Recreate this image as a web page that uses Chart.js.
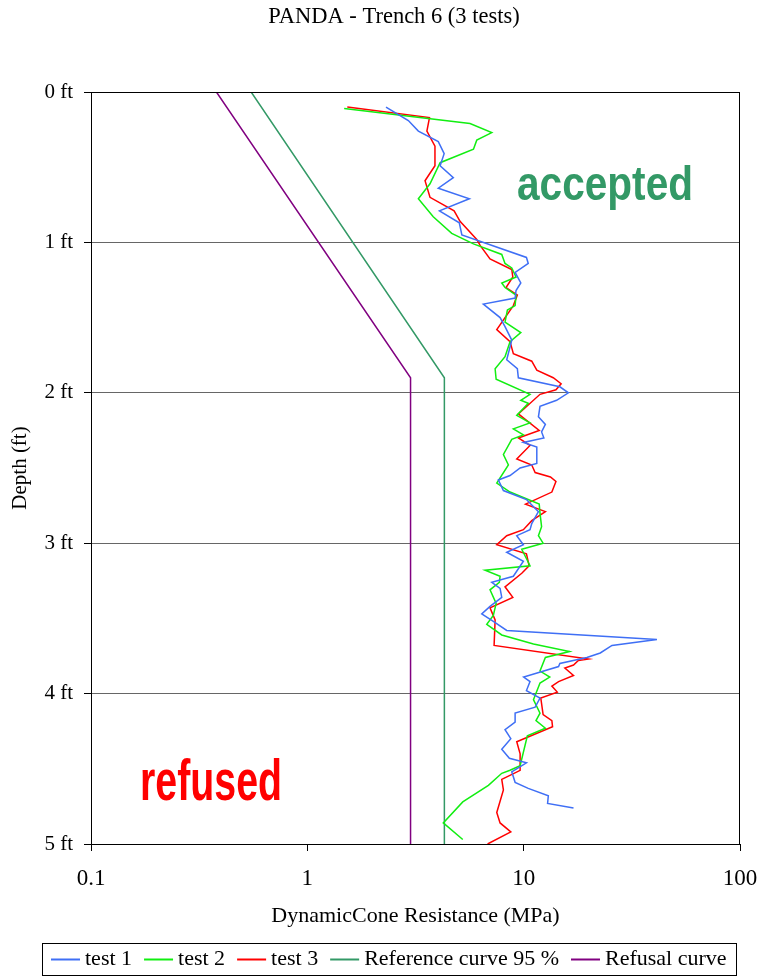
<!DOCTYPE html>
<html>
<head>
<meta charset="utf-8">
<title>PANDA - Trench 6 (3 tests)</title>
<script src="https://cdn.jsdelivr.net/npm/chart.js@4.4.1/dist/chart.umd.min.js"></script>
<style>
  html, body { margin: 0; padding: 0; background: #ffffff; }
  canvas { display: block; }
</style>
</head>
<body>
<canvas id="chart" width="761" height="979"></canvas>
<script>
// Axis ticks
const depthTicks = [0, 1, 2, 3, 4, 5];
const resistanceTicks = [0.1, 1, 10, 100];

// Penetrometer soundings: depth (ft) and cone resistance (MPa)
const test1Depth = [0.10, 0.19, 0.26, 0.33, 0.41, 0.49, 0.57, 0.64, 0.71, 0.79, 0.87, 0.95, 1.10, 1.14, 1.20, 1.27, 1.32, 1.37, 1.41, 1.50, 1.56, 1.65, 1.78, 1.84, 1.90, 1.96, 2.00, 2.05, 2.09, 2.16, 2.21, 2.26, 2.30, 2.33, 2.36, 2.47, 2.50, 2.55, 2.58, 2.65, 2.71, 2.79, 2.87, 2.91, 2.95, 3.01, 3.06, 3.12, 3.22, 3.26, 3.30, 3.36, 3.42, 3.47, 3.52, 3.58, 3.64, 3.68, 3.73, 3.76, 3.80, 3.82, 3.89, 3.92, 3.98, 4.03, 4.09, 4.13, 4.19, 4.24, 4.30, 4.37, 4.43, 4.46, 4.52, 4.59, 4.63, 4.68, 4.73, 4.76];
const test1Resistance = [2.31, 2.93, 3.26, 4.03, 4.29, 4.11, 4.73, 4.03, 5.61, 4.08, 5.04, 5.18, 10.3, 10.5, 9.13, 9.70, 9.22, 9.13, 6.51, 7.78, 8.20, 8.81, 8.35, 9.35, 9.45, 14.7, 16.1, 14.2, 11.9, 11.7, 12.6, 12.1, 12.4, 9.97, 11.5, 11.5, 9.63, 8.65, 7.64, 8.06, 10.3, 11.7, 10.9, 10.7, 9.29, 9.97, 8.35, 9.97, 8.96, 7.12, 7.78, 7.92, 6.99, 6.40, 7.24, 8.35, 41.3, 25.6, 22.6, 19.6, 14.7, 14.5, 10.0, 10.7, 10.3, 11.9, 11.3, 9.13, 9.13, 8.20, 8.72, 7.92, 8.59, 10.3, 8.81, 9.13, 10.5, 13.0, 12.9, 17.0];

const test2Depth = [0.11, 0.21, 0.27, 0.32, 0.38, 0.47, 0.61, 0.71, 0.83, 0.94, 1.01, 1.08, 1.14, 1.17, 1.23, 1.27, 1.30, 1.35, 1.42, 1.45, 1.53, 1.60, 1.66, 1.76, 1.84, 1.91, 2.01, 2.05, 2.07, 2.15, 2.20, 2.24, 2.28, 2.31, 2.41, 2.48, 2.60, 2.66, 2.74, 2.80, 2.89, 2.95, 3.00, 3.04, 3.15, 3.18, 3.22, 3.26, 3.31, 3.40, 3.48, 3.54, 3.61, 3.67, 3.72, 3.76, 3.85, 3.89, 3.93, 4.04, 4.13, 4.18, 4.23, 4.28, 4.48, 4.51, 4.53, 4.61, 4.72, 4.86, 4.97];
const test2Resistance = [1.48, 5.65, 7.12, 6.07, 5.86, 4.11, 3.69, 3.26, 3.82, 4.65, 5.86, 7.92, 8.20, 8.81, 9.22, 7.92, 8.20, 9.22, 9.13, 8.41, 8.20, 9.70, 8.65, 8.20, 7.38, 7.46, 10.7, 9.70, 10.5, 9.29, 10.7, 8.96, 9.97, 8.81, 8.06, 8.50, 7.51, 8.65, 11.8, 11.9, 12.1, 11.7, 12.3, 9.80, 10.7, 6.63, 7.78, 7.72, 6.99, 7.46, 7.24, 6.75, 7.92, 11.1, 16.3, 12.6, 11.9, 13.2, 11.9, 11.1, 11.9, 11.4, 12.6, 10.4, 9.63, 8.65, 7.92, 6.87, 5.23, 4.25, 5.23];

const test3Depth = [0.10, 0.17, 0.26, 0.36, 0.49, 0.59, 0.70, 0.79, 0.86, 0.98, 1.02, 1.11, 1.18, 1.23, 1.30, 1.35, 1.42, 1.58, 1.66, 1.74, 1.79, 1.85, 1.90, 1.94, 1.98, 2.01, 2.14, 2.25, 2.30, 2.35, 2.44, 2.48, 2.53, 2.56, 2.59, 2.66, 2.74, 2.79, 2.85, 2.91, 2.95, 3.01, 3.07, 3.15, 3.20, 3.29, 3.36, 3.43, 3.51, 3.68, 3.77, 3.78, 3.81, 3.83, 3.88, 3.92, 3.95, 3.99, 4.03, 4.14, 4.18, 4.22, 4.32, 4.40, 4.51, 4.57, 4.64, 4.79, 4.86, 4.92, 5.00];
const test3Resistance = [1.53, 3.67, 3.57, 3.89, 3.89, 3.50, 3.69, 4.77, 5.08, 6.07, 6.29, 6.99, 8.81, 8.91, 8.29, 9.35, 8.96, 7.51, 8.65, 8.96, 10.9, 11.5, 13.7, 14.9, 14.1, 11.9, 9.45, 11.8, 9.45, 10.7, 9.29, 10.9, 11.3, 13.3, 14.1, 13.5, 10.2, 12.6, 10.9, 9.97, 8.35, 7.51, 10.3, 10.6, 9.80, 8.20, 8.91, 6.99, 7.38, 7.30, 19.9, 17.9, 17.0, 15.5, 17.0, 14.5, 13.5, 14.3, 12.0, 12.3, 13.5, 13.6, 9.29, 9.63, 9.63, 7.92, 8.06, 7.51, 7.78, 8.72, 6.81];

// Compaction control curves
const referenceDepth = [0, 1.9, 5];
const referenceResistance = [0.55, 4.3, 4.3];
const refusalDepth = [0, 1.9, 5];
const refusalResistance = [0.38, 3.0, 3.0];

const chartTitle = 'PANDA - Trench 6 (3 tests)';

const serif = "'Liberation Serif', 'Times New Roman', serif";
const sans = "'Liberation Sans', Arial, sans-serif";

const points = (xs, ys) => xs.map((x, i) => ({ x: x, y: ys[i] }));

function series(label, xs, ys, color) {
  return {
    label: label,
    data: points(xs, ys),
    borderColor: color,
    backgroundColor: color,
    borderWidth: 1.5,
    showLine: true,
    pointRadius: 0,
    pointHoverRadius: 0,
    tension: 0,
    fill: false
  };
}

// Frame, title, zone labels and boxed legend
const decorations = {
  id: 'decorations',
  afterDatasetsDraw(chart) {
    const { ctx, chartArea: a } = chart;
    ctx.save();
    ctx.strokeStyle = '#000000';
    ctx.lineWidth = 1;
    ctx.strokeRect(Math.round(a.left) + 0.5, Math.round(a.top) + 0.5,
                   Math.round(a.right - a.left) - 1, Math.round(a.bottom - a.top));
    ctx.restore();
  },
  afterDraw(chart) {
    const { ctx } = chart;

    // title
    ctx.save();
    ctx.font = '22.5px ' + serif;
    ctx.fillStyle = '#000000';
    ctx.textAlign = 'center';
    ctx.textBaseline = 'alphabetic';
    ctx.fillText(chartTitle, 394, 23);
    ctx.restore();

    function squeezed(text, font, color, left, baseline, width) {
      ctx.save();
      ctx.font = font;
      ctx.fillStyle = color;
      ctx.textBaseline = 'alphabetic';
      ctx.textAlign = 'left';
      const w = ctx.measureText(text).width;
      ctx.translate(left, baseline);
      ctx.scale(width / w, 1);
      ctx.fillText(text, 0, 0);
      ctx.restore();
    }
    squeezed('accepted', 'bold 49px ' + sans, '#339966', 517, 200, 176);
    squeezed('refused', 'bold 57px ' + sans, '#ff0000', 140, 800, 142);

    // legend
    ctx.save();
    ctx.font = '22px ' + serif;
    const items = chart.data.datasets.map(d => ({ text: d.label, color: d.borderColor, w: ctx.measureText(d.label).width }));
    const sample = 29, gap = 5, spacing = 12, pad = 9;
    let total = pad * 2 + spacing * (items.length - 1);
    items.forEach(it => { total += sample + gap + it.w; });
    total = Math.round(total);
    const top = 943, height = 32;
    const left = Math.round(389 - total / 2);
    ctx.fillStyle = '#ffffff';
    ctx.fillRect(left, top, total, height);
    ctx.strokeStyle = '#000000';
    ctx.lineWidth = 1;
    ctx.strokeRect(left + 0.5, top + 0.5, total, height);
    let x = left + pad;
    const cy = top + height / 2 + 0.5;
    items.forEach(it => {
      ctx.strokeStyle = it.color;
      ctx.lineWidth = 2;
      ctx.beginPath();
      ctx.moveTo(x, cy);
      ctx.lineTo(x + sample, cy);
      ctx.stroke();
      x += sample + gap;
      ctx.fillStyle = '#000000';
      ctx.textBaseline = 'middle';
      ctx.textAlign = 'left';
      ctx.fillText(it.text, x, cy);
      x += it.w + spacing;
    });
    ctx.restore();
  }
};

new Chart(document.getElementById('chart').getContext('2d'), {
  type: 'scatter',
  data: {
    datasets: [
      series('test 1', test1Resistance, test1Depth, '#3f6ff5'),
      series('test 2', test2Resistance, test2Depth, '#11ee11'),
      series('test 3', test3Resistance, test3Depth, '#ff0000'),
      series('Reference curve 95 %', referenceResistance, referenceDepth, '#339966'),
      series('Refusal curve', refusalResistance, refusalDepth, '#800080')
    ]
  },
  options: {
    responsive: false,
    animation: false,
    events: [],
    layout: { padding: { left: 0, right: 21, top: 92, bottom: 45 } },
    plugins: {
      legend: { display: false },
      tooltip: { enabled: false },
      title: { display: false }
    },
    scales: {
      x: {
        type: 'logarithmic',
        position: 'bottom',
        min: resistanceTicks[0],
        max: resistanceTicks[resistanceTicks.length - 1],
        afterBuildTicks: s => { s.ticks = resistanceTicks.map(v => ({ value: v })); },
        afterFit: s => { s.height = 90; s.paddingLeft = 0; s.paddingRight = 0; },
        grid: { drawOnChartArea: false, drawTicks: true, tickLength: 7, color: '#000000', tickColor: '#000000' },
        border: { display: true, color: '#000000', width: 1 },
        ticks: {
          color: '#000000',
          font: { family: serif, size: 23 },
          padding: 14,
          maxRotation: 0,
          autoSkip: false,
          callback: v => String(v)
        },
        title: {
          display: true,
          text: 'DynamicCone Resistance (MPa)',
          color: '#000000',
          font: { family: serif, size: 22, weight: 'normal', lineHeight: 1.2 },
          padding: { top: 0, bottom: 5 }
        }
      },
      y: {
        type: 'linear',
        position: 'left',
        reverse: true,
        min: depthTicks[0],
        max: depthTicks[depthTicks.length - 1],
        afterBuildTicks: s => { s.ticks = depthTicks.map(v => ({ value: v })); },
        afterFit: s => { s.width = 91; s.paddingTop = 0; s.paddingBottom = 0; },
        grid: { drawOnChartArea: true, drawTicks: true, tickLength: 7, color: '#666666', tickColor: '#000000', lineWidth: 1 },
        border: { display: true, color: '#000000', width: 1 },
        ticks: {
          color: '#000000',
          font: { family: serif, size: 21 },
          padding: 11,
          autoSkip: false,
          callback: v => v + ' ft'
        },
        title: {
          display: true,
          text: 'Depth (ft)',
          color: '#000000',
          font: { family: serif, size: 21, weight: 'normal', lineHeight: 1.2 },
          padding: { top: 8, bottom: 0 }
        }
      }
    }
  },
  plugins: [decorations]
});
</script>
</body>
</html>
